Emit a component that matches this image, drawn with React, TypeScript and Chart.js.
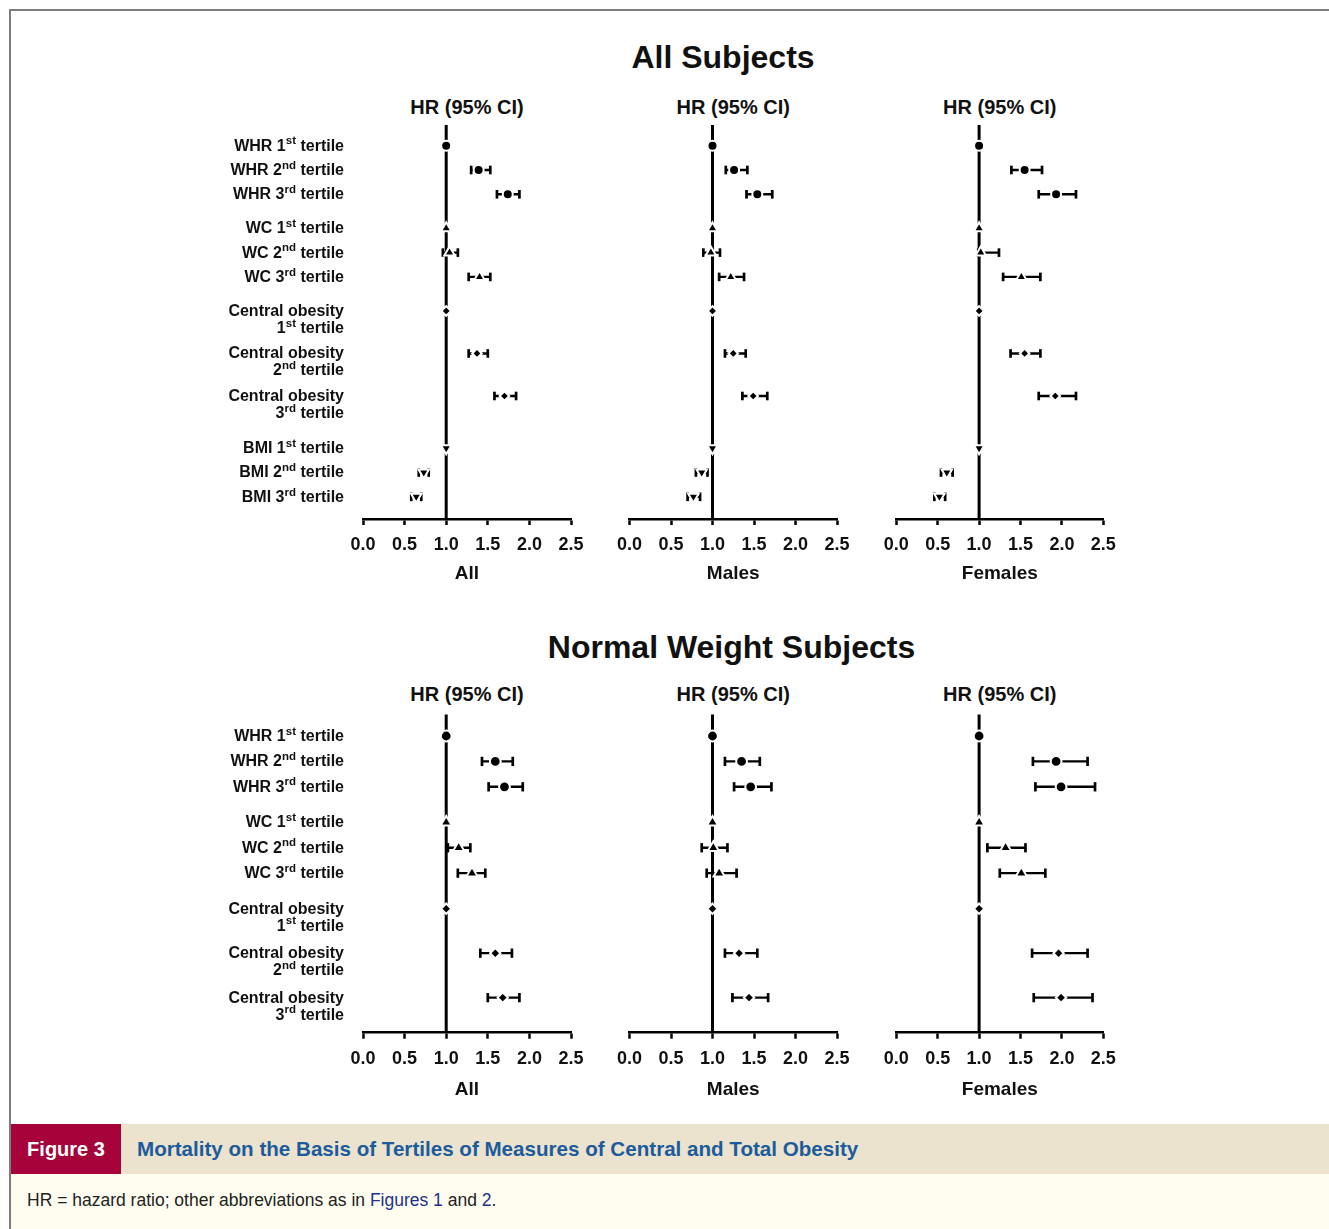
import React, { useEffect, useRef } from "react";
import { Chart, registerables } from "chart.js";

Chart.register(...registerables);

// ---------------- DATA ----------------
const rowLabels = [
  "WHR 1{st} tertile",
  "WHR 2{nd} tertile",
  "WHR 3{rd} tertile",
  "WC 1{st} tertile",
  "WC 2{nd} tertile",
  "WC 3{rd} tertile",
  "Central obesity\n1{st} tertile",
  "Central obesity\n2{nd} tertile",
  "Central obesity\n3{rd} tertile",
  "BMI 1{st} tertile",
  "BMI 2{nd} tertile",
  "BMI 3{rd} tertile",
];
const rowMeasures = ["WHR", "WHR", "WHR", "WC", "WC", "WC", "CO", "CO", "CO", "BMI", "BMI", "BMI"];

const xTickValues = [0, 0.5, 1, 1.5, 2, 2.5];
const panelNames = ["All", "Males", "Females"];
const sectionTitles = ["All Subjects", "Normal Weight Subjects"];
const headerText = "HR (95% CI)";

// All subjects
const subjAllHR = [1, 1.39, 1.74, 1, 1.04, 1.4, 1, 1.37, 1.7, 1, 0.73, 0.64];
const subjAllLo = [null, 1.3, 1.61, null, 0.96, 1.27, null, 1.27, 1.58, null, 0.67, 0.58];
const subjAllHi = [null, 1.53, 1.88, null, 1.14, 1.53, null, 1.5, 1.84, null, 0.79, 0.7];

const subjMalesHR = [1, 1.26, 1.54, 1, 0.98, 1.22, 1, 1.25, 1.49, 1, 0.87, 0.77];
const subjMalesLo = [null, 1.16, 1.41, null, 0.89, 1.08, null, 1.15, 1.36, null, 0.8, 0.7];
const subjMalesHi = [null, 1.42, 1.72, null, 1.09, 1.38, null, 1.4, 1.66, null, 0.94, 0.85];

const subjFemalesHR = [1, 1.55, 1.93, 1, 1.02, 1.51, 1, 1.55, 1.92, 1, 0.61, 0.52];
const subjFemalesLo = [null, 1.39, 1.72, null, 0.99, 1.29, null, 1.38, 1.72, null, 0.54, 0.46];
const subjFemalesHi = [null, 1.76, 2.17, null, 1.24, 1.74, null, 1.74, 2.17, null, 0.68, 0.59];

// Normal weight subjects
const normAllHR = [1, 1.59, 1.7, 1, 1.15, 1.31, 1, 1.59, 1.68];
const normAllLo = [null, 1.43, 1.51, null, 1.02, 1.14, null, 1.41, 1.5];
const normAllHi = [null, 1.8, 1.92, null, 1.29, 1.47, null, 1.79, 1.88];

const normMalesHR = [1, 1.35, 1.46, 1, 1.01, 1.08, 1, 1.32, 1.44];
const normMalesLo = [null, 1.15, 1.26, null, 0.87, 0.93, null, 1.15, 1.24];
const normMalesHi = [null, 1.57, 1.71, null, 1.18, 1.29, null, 1.54, 1.67];

const normFemalesHR = [1, 1.93, 1.99, 1, 1.32, 1.51, 1, 1.96, 1.99];
const normFemalesLo = [null, 1.65, 1.68, null, 1.1, 1.25, null, 1.64, 1.66];
const normFemalesHi = [null, 2.31, 2.4, null, 1.56, 1.8, null, 2.31, 2.37];

const sectionPanels = [
  [
    { hr: subjAllHR, lo: subjAllLo, hi: subjAllHi },
    { hr: subjMalesHR, lo: subjMalesLo, hi: subjMalesHi },
    { hr: subjFemalesHR, lo: subjFemalesLo, hi: subjFemalesHi },
  ],
  [
    { hr: normAllHR, lo: normAllLo, hi: normAllHi },
    { hr: normMalesHR, lo: normMalesLo, hi: normMalesHi },
    { hr: normFemalesHR, lo: normFemalesLo, hi: normFemalesHi },
  ],
];

// ---------------- LAYOUT / STYLE ----------------
const FONT = '"Liberation Sans", Arial, Helvetica, sans-serif';

const SECTION_GEO = [
  { titleX: 723, titleY: 57, headerY: 107, rows: 12, slot0Y: 145.7, unit: 24.3, axisY: 519, markerScale: 1, titlePad: 8 },
  { titleX: 731.5, titleY: 647, headerY: 694, rows: 9, slot0Y: 736, unit: 25.4, axisY: 1032.7, markerScale: 1.08, titlePad: 5.5 },
];
const PANEL_X = [
  { left: 363, right: 571 },
  { left: 629.5, right: 837 },
  { left: 896.3, right: 1103.3 },
];
const Y_MIN = -0.85;
const AXIS_H = 74;

const MARKERS: Record<string, { style: string; radius: number; rotation: number }> = {
  WHR: { style: "circle", radius: 5, rotation: 0 },
  WC: { style: "triangle", radius: 6, rotation: 0 },
  CO: { style: "rectRot", radius: 4.8, rotation: 0 },
  BMI: { style: "triangle", radius: 6, rotation: 180 },
};

// row slots on the y axis derived from label structure (group gaps, two-line labels)
function rowSlots(n: number): number[] {
  const out: number[] = [];
  let y = 0;
  for (let i = 0; i < n; i++) {
    if (i > 0) {
      y += rowLabels[i - 1].includes("\n") ? 1.75 : 1;
      if (rowMeasures[i] !== rowMeasures[i - 1]) y += 0.4;
    }
    out.push(y);
  }
  return out;
}

function parseSegments(line: string) {
  return line
    .split(/(\{[^}]*\})/)
    .filter((s) => s.length > 0)
    .map((s) => (s.startsWith("{") ? { t: s.slice(1, -1), sup: true } : { t: s, sup: false }));
}

function makeLabelPlugin(slots: number[], n: number) {
  return {
    id: "rowLabels",
    afterDatasetsDraw(chart: any) {
      const ctx = chart.ctx;
      const ys = chart.scales.y;
      const xRight = chart.chartArea.left - 19;
      const mainFont = `bold 16px ${FONT}`;
      const supFont = `bold 11.5px ${FONT}`;
      ctx.save();
      ctx.fillStyle = "#111";
      ctx.textBaseline = "middle";
      ctx.textAlign = "left";
      for (let i = 0; i < n; i++) {
        const yc = ys.getPixelForValue(slots[i]) + 0.5;
        rowLabels[i].split("\n").forEach((line, j) => {
          const segs = parseSegments(line).map((s) => {
            ctx.font = s.sup ? supFont : mainFont;
            return { ...s, w: ctx.measureText(s.t).width };
          });
          const total = segs.reduce((a, s) => a + s.w, 0);
          let x = xRight - total;
          const y = yc + j * 17;
          segs.forEach((s) => {
            ctx.font = s.sup ? supFont : mainFont;
            ctx.fillText(s.t, x, s.sup ? y - 5 : y);
            x += s.w;
          });
        });
      }
      ctx.restore();
    },
  };
}

function Panel({ sectionIdx, panelIdx }: { sectionIdx: number; panelIdx: number }) {
  const ref = useRef<HTMLCanvasElement | null>(null);
  const geo = SECTION_GEO[sectionIdx];
  const px = PANEL_X[panelIdx];
  const showLabels = panelIdx === 0;

  const yMax = (geo.axisY - geo.slot0Y) / geo.unit;
  const areaTop = geo.slot0Y + Y_MIN * geo.unit;
  const canvasTop = Math.floor(areaTop) - 10;
  const padTop = areaTop - canvasTop;
  const areaH = geo.axisY - areaTop;
  const canvasH = Math.ceil(padTop + areaH + AXIS_H);
  const padBottom = canvasH - padTop - areaH - AXIS_H;
  const canvasLeft = showLabels ? 200 : Math.floor(px.left) - 30;
  const padLeft = px.left - canvasLeft;
  const canvasW = Math.ceil(px.right + 30 - canvasLeft);
  const padRight = canvasW - (px.right - canvasLeft);

  useEffect(() => {
    const canvas = ref.current;
    if (!canvas) return;
    const n = geo.rows;
    const slots = rowSlots(n);
    const d = sectionPanels[sectionIdx][panelIdx];
    const ms = geo.markerScale;

    const markerData = slots.map((y, i) => ({ x: d.hr[i], y }));
    const ciData: any[] = [];
    for (let i = 0; i < n; i++) {
      if (d.lo[i] == null || d.hi[i] == null) continue;
      ciData.push({ x: d.lo[i], y: slots[i] });
      ciData.push({ x: d.hi[i], y: slots[i] });
      ciData.push({ x: null, y: null });
    }
    const measures = rowMeasures.slice(0, n);

    const chart = new Chart(canvas, {
      type: "scatter",
      data: {
        datasets: [
          {
            label: "HR",
            data: markerData,
            showLine: false,
            order: 0,
            clip: false,
            pointStyle: measures.map((m) => MARKERS[m].style) as any,
            pointRadius: measures.map((m) => MARKERS[m].radius * ms),
            pointRotation: measures.map((m) => MARKERS[m].rotation),
            pointBackgroundColor: "#000",
            pointBorderColor: "#fff",
            pointBorderWidth: 2,
          },
          {
            label: "95% CI",
            data: ciData,
            showLine: true,
            spanGaps: false,
            order: 1,
            clip: false,
            borderColor: "#000",
            borderWidth: 2.4,
            pointStyle: "line",
            pointRotation: 90,
            pointRadius: 4.3 * ms,
            pointBorderColor: "#000",
            pointBorderWidth: 2.7,
          } as any,
          {
            label: "ref",
            data: [
              { x: 1, y: Y_MIN },
              { x: 1, y: yMax },
            ],
            showLine: true,
            order: 2,
            clip: false,
            borderColor: "#000",
            borderWidth: 3,
            pointRadius: 0,
          } as any,
        ],
      },
      options: {
        responsive: false,
        animation: false,
        events: [],
        layout: { padding: { left: padLeft, right: padRight, top: padTop, bottom: padBottom } },
        plugins: { legend: { display: false }, tooltip: { enabled: false }, title: { display: false } },
        scales: {
          x: {
            type: "linear",
            min: 0,
            max: 2.5,
            afterBuildTicks: (scale: any) => {
              scale.ticks = xTickValues.map((v) => ({ value: v }));
            },
            afterFit: (scale: any) => {
              scale.height = AXIS_H;
            },
            ticks: {
              autoSkip: false,
              maxRotation: 0,
              padding: 9.5,
              color: "#111",
              font: { family: FONT, weight: "bold", size: 18 },
              callback: (v: any) => Number(v).toFixed(1),
            },
            grid: {
              display: true,
              drawOnChartArea: false,
              drawTicks: true,
              tickLength: 6,
              tickWidth: 2.5,
              tickColor: "#000",
            },
            border: { display: true, color: "#000", width: 2.5 },
            title: {
              display: true,
              text: panelNames[panelIdx],
              color: "#111",
              font: { family: FONT, weight: "bold", size: 19 },
              padding: { top: 0, bottom: geo.titlePad },
            },
          },
          y: {
            type: "linear",
            display: false,
            reverse: true,
            min: Y_MIN,
            max: yMax,
          },
        },
      } as any,
      plugins: showLabels ? [makeLabelPlugin(slots, n) as any] : [],
    });
    return () => chart.destroy();
  }, []);

  return (
    <canvas
      ref={ref}
      width={canvasW}
      height={canvasH}
      style={{ position: "absolute", left: canvasLeft, top: canvasTop, width: canvasW, height: canvasH }}
    />
  );
}

function Txt({
  x,
  y,
  size,
  children,
  center = true,
  color = "#111",
  weight = "bold",
}: {
  x: number;
  y: number;
  size: number;
  children: any;
  center?: boolean;
  color?: string;
  weight?: string;
}) {
  return (
    <div
      style={{
        position: "absolute",
        left: x,
        top: y - size / 2,
        transform: center ? "translateX(-50%)" : undefined,
        fontSize: size,
        lineHeight: `${size}px`,
        fontWeight: weight as any,
        color,
        whiteSpace: "nowrap",
        fontFamily: FONT,
      }}
    >
      {children}
    </div>
  );
}

export default function App() {
  return (
    <div
      style={{
        position: "absolute",
        left: 0,
        top: 0,
        width: 1329,
        height: 1229,
        background: "#fff",
        overflow: "hidden",
        fontFamily: FONT,
      }}
    >
      {/* frame */}
      <div style={{ position: "absolute", left: 9, top: 9, width: 1320, height: 2, background: "#7d7d7d" }} />
      <div style={{ position: "absolute", left: 9, top: 9, width: 2, height: 1220, background: "#7d7d7d" }} />

      {SECTION_GEO.map((g, si) => (
        <React.Fragment key={si}>
          <Txt x={g.titleX} y={g.titleY} size={32}>
            {sectionTitles[si]}
          </Txt>
          {PANEL_X.map((p, pi) => (
            <Txt key={pi} x={(p.left + p.right) / 2} y={g.headerY} size={20}>
              {headerText}
            </Txt>
          ))}
          {PANEL_X.map((_, pi) => (
            <Panel key={`p${pi}`} sectionIdx={si} panelIdx={pi} />
          ))}
        </React.Fragment>
      ))}

      {/* caption */}
      <div style={{ position: "absolute", left: 11, top: 1124, width: 1318, height: 50, background: "#ebe3cd" }} />
      <div style={{ position: "absolute", left: 11, top: 1124, width: 110, height: 50, background: "#a5033a" }} />
      <Txt x={66} y={1149} size={20} color="#ffffff">
        Figure 3
      </Txt>
      <Txt x={137} y={1149} size={20.6} center={false} color="#1c5b9c">
        Mortality on the Basis of Tertiles of Measures of Central and Total Obesity
      </Txt>
      <div style={{ position: "absolute", left: 11, top: 1174, width: 1318, height: 55, background: "#fffdf0" }} />
      <Txt x={27} y={1201} size={17.5} center={false} color="#222" weight="normal">
        HR = hazard ratio; other abbreviations as in <span style={{ color: "#22308a" }}>Figures 1</span> and{" "}
        <span style={{ color: "#22308a" }}>2</span>.
      </Txt>
    </div>
  );
}
